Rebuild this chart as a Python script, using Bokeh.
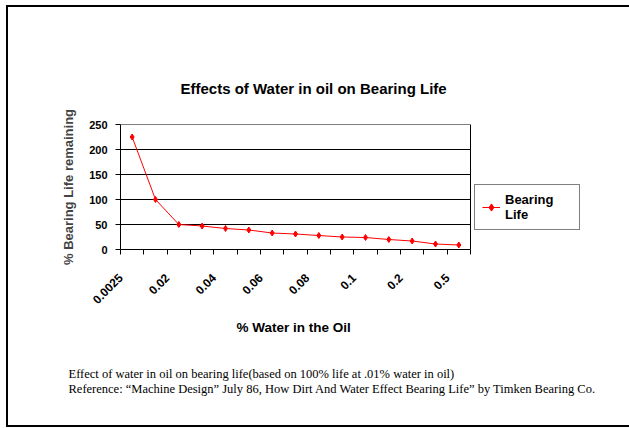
from bokeh.plotting import figure
from bokeh.models import Range1d, FixedTicker, Legend, LegendItem, Title, Spacer
from bokeh.layouts import column, row
from bokeh.embed import file_html
from bokeh.resources import INLINE

# ---- data ----
water_pct = ["0.0025", "0.01", "0.02", "0.03", "0.04", "0.05", "0.06", "0.07",
             "0.08", "0.09", "0.1", "0.15", "0.2", "0.3", "0.5"]
life_pct = [225, 100, 50, 47, 42, 39, 33, 31, 28, 25, 24, 20, 17, 11, 9]
y_ticks = [0, 50, 100, 150, 200, 250]
shown_every = 2

title_text = "Effects of Water in oil on Bearing Life"
x_title = "% Water in the Oil"
y_title = "% Bearing Life remaining"
series_name = "Bearing\nLife"
note1 = "Effect of water in oil on bearing life(based on 100% life at .01% water in oil)"
note2 = "Reference: \u201cMachine Design\u201d July 86, How Dirt And Water Effect Bearing Life\u201d by Timken Bearing Co."

SANS = "Liberation Sans"
SERIF = "Liberation Serif"

n = len(water_pct)
xs = list(range(n))

# the frame is wider than the plot area so that the legend can sit to its right
AREA_PX, FRAME_PX = 350, 500
x_end = -0.5 + n * FRAME_PX / AREA_PX

p = figure(width=621, height=418, output_backend="svg", toolbar_location=None,
           x_range=Range1d(-0.5, x_end), y_range=Range1d(0, y_ticks[-1]),
           min_border_left=112, min_border_right=9, min_border_top=117,
           min_border_bottom=176)

p.title.text = title_text
p.title.align = "left"
p.title.offset = 60
p.title.standoff = 55
p.title.text_font = SANS
p.title.text_font_style = "bold"
p.title.text_font_size = "15px"
p.title.text_color = "black"

p.outline_line_color = None
p.background_fill_color = "white"
p.border_fill_color = "white"

# x axis: labels every other category, tick marks at category boundaries
label_pos = xs[::shown_every]
label_ticks = [i - 0.5 for i in label_pos]
p.xaxis.bounds = (-0.5, n - 0.5)
p.xaxis.ticker = FixedTicker(ticks=label_ticks, minor_ticks=[i - 0.5 for i in range(n + 1)])
p.xaxis.major_label_overrides = {t: water_pct[i] for t, i in zip(label_ticks, label_pos)}
p.xaxis.major_tick_out = 0
p.xaxis.major_tick_in = 0
p.xaxis.minor_tick_out = 5
p.xaxis.minor_tick_in = 0
p.xaxis.minor_tick_line_color = "black"
p.xaxis.major_label_orientation = 0.785398
p.xaxis.major_label_standoff = 21
p.xaxis.major_label_text_font = SANS
p.xaxis.major_label_text_font_style = "bold"
p.xaxis.major_label_text_font_size = "12px"
p.xaxis.major_label_text_color = "black"
p.xaxis.axis_line_color = "black"

p.yaxis.ticker = FixedTicker(ticks=y_ticks)
p.yaxis.minor_tick_line_color = None
p.yaxis.major_tick_out = 5
p.yaxis.major_tick_in = 0
p.yaxis.major_tick_line_color = "black"
p.yaxis.major_label_standoff = 8
p.yaxis.major_label_text_font = SANS
p.yaxis.major_label_text_font_style = "bold"
p.yaxis.major_label_text_font_size = "11px"
p.yaxis.major_label_text_color = "black"
p.yaxis.axis_label = y_title
p.yaxis.axis_label_text_font = SANS
p.yaxis.axis_label_text_font_style = "bold"
p.yaxis.axis_label_text_font_size = "13px"
p.yaxis.axis_label_standoff = 10
p.yaxis.axis_line_color = "black"

p.xgrid.visible = False
p.ygrid.visible = False
# horizontal gridlines and plot-area box limited to the category span
p.segment(x0=[-0.5] * len(y_ticks), x1=[n - 0.5] * len(y_ticks), y0=y_ticks, y1=y_ticks,
          line_color="black", line_width=1)
p.segment(x0=[n - 0.5], x1=[n - 0.5], y0=[y_ticks[0]], y1=[y_ticks[-1]],
          line_color="black", line_width=1)

ln = p.line(xs, life_pct, line_color="red", line_width=1)
mk = p.scatter(xs, life_pct, marker="diamond", size=6, fill_color="red", line_color="red")

legend = Legend(items=[LegendItem(label=series_name, renderers=[ln, mk])],
                location=(354, 19), padding=7, margin=0, glyph_width=18,
                label_standoff=5, label_width=67, spacing=0,
                border_line_color="black", border_line_width=1,
                background_fill_color="white", background_fill_alpha=1,
                label_text_font=SANS, label_text_font_style="bold",
                label_text_font_size="13px", label_text_color="black")
p.add_layout(legend)

# x-axis title and footnotes stacked below the axis
p.add_layout(Title(text=x_title, align="left", offset=116, standoff=14,
                   text_font=SANS, text_font_style="bold",
                   text_font_size="13.5px", text_color="black"), "below")
p.add_layout(Title(text=note1 + "\n" + note2, align="left", offset=-52, standoff=47,
                   text_font=SERIF, text_font_style="normal", text_line_height=1.08,
                   text_font_size="12.5px", text_color="black"), "below")

# page frame lines (top, left, bottom) as black bars
black = {"background-color": "black"}
left_bar = Spacer(width=2, height=422, styles=black)
top_bar = Spacer(width=621, height=2, styles=black)
bottom_bar = Spacer(width=621, height=2, styles=black)

layout = column(Spacer(width=629, height=5),
                row(Spacer(width=6, height=422), left_bar,
                    column(top_bar, p, bottom_bar, spacing=0), spacing=0),
                spacing=0)

open("out.html", "w").write(file_html(layout, INLINE))
